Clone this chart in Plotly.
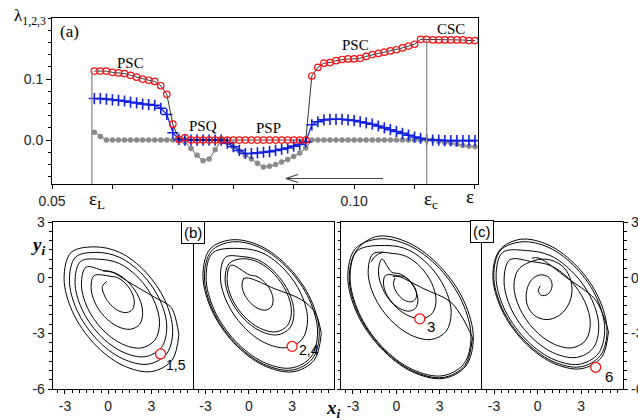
import plotly.graph_objects as go

W, H = 638, 420

# ---------------- top panel data (Lyapunov exponents) ----------------
eps = [0.057, 0.058, 0.059, 0.060, 0.061, 0.062, 0.063, 0.064, 0.065, 0.066,
       0.067, 0.068, 0.069, 0.070, 0.071, 0.072, 0.073, 0.074, 0.075, 0.076,
       0.077, 0.078, 0.079, 0.080, 0.081, 0.082, 0.083, 0.084, 0.085, 0.086,
       0.087, 0.088, 0.089, 0.090, 0.091, 0.092, 0.093, 0.094, 0.095, 0.096,
       0.097, 0.098, 0.099, 0.100, 0.101, 0.102, 0.103, 0.104, 0.105, 0.106,
       0.107, 0.108, 0.109, 0.110, 0.111, 0.112, 0.113, 0.114, 0.115, 0.116,
       0.117, 0.118, 0.119, 0.120]

lam1 = [0.113, 0.113, 0.113, 0.111, 0.110, 0.109, 0.106, 0.103, 0.100, 0.098,
        0.096, 0.089, 0.075, 0.026, 0.001, 0.004, 0.0, 0.0, 0.0, 0.0,
        0.0, 0.0, 0.0, 0.0, 0.0, 0.0, 0.0, 0.0, 0.0, 0.0,
        0.0, 0.0, 0.0, 0.0, 0.0, 0.0, 0.105, 0.119, 0.126, 0.127,
        0.130, 0.132, 0.133, 0.133, 0.134, 0.137, 0.140, 0.142, 0.144, 0.146,
        0.148, 0.151, 0.154, 0.157, 0.165, 0.165, 0.164, 0.164, 0.164, 0.164,
        0.164, 0.164, 0.163, 0.163]

lam2 = [0.068, 0.068, 0.067, 0.066, 0.065, 0.064, 0.062, 0.061, 0.059, 0.058,
        0.057, 0.052, 0.042, 0.012, 0.001, 0.0, 0.0, 0.0, 0.0, 0.0,
        0.0, 0.0, -0.005, -0.011, -0.017, -0.022, -0.022, -0.021, -0.020, -0.019,
        -0.017, -0.015, -0.013, -0.010, -0.007, -0.003, 0.025, 0.030, 0.033, 0.034,
        0.034, 0.034, 0.033, 0.032, 0.030, 0.028, 0.026, 0.023, 0.020, 0.017,
        0.014, 0.011, 0.008, 0.005, 0.003, 0.001, 0.0, 0.0, -0.001, -0.001,
        -0.001, -0.001, -0.001, -0.001]

lam3 = [0.013, 0.006, 0.0, 0.0, 0.0, 0.0, 0.0, 0.0, 0.0, 0.0,
        0.0, 0.0, 0.0, 0.0, 0.0, -0.003, -0.014, -0.025, -0.034, -0.031,
        -0.016, 0.0, -0.004, -0.011, -0.018, -0.025, -0.031, -0.038, -0.044, -0.043,
        -0.040, -0.036, -0.032, -0.027, -0.021, -0.013, 0.0, 0.0, 0.0, 0.0,
        0.0, 0.0, 0.0, 0.0, 0.0, 0.0, 0.0, 0.0, 0.0, 0.0,
        0.0, 0.0, 0.0, 0.0, 0.0, 0.0, 0.0, -0.002, -0.004, -0.005,
        -0.007, -0.009, -0.010, -0.011]

eps_L = 0.0566
eps_c = 0.112
lam_L_top = 0.113
lam_c_top = 0.165

top_xticks = [0.05, 0.10]
top_xtext = ["0.05", "0.10"]
top_yticks = [0.0, 0.1]
top_ytext = ["0.0", "0.1"]

regime_labels = ["PSC", "PSQ", "PSP", "PSC", "CSC"]

# ---------------- bottom panels: phase portraits (x_i, y_i) ----------------
# panel 1 (oscillators 1,5)
p1_spiral_x = [-0.1,
               -0.41, -0.25, 0.17, 0.73, 1.28, 1.68, 1.81, 1.65, 1.23, 0.67, 0.12,
               -0.98, -1.19, -0.93, -0.26, 0.65, 1.54, 2.18, 2.39, 2.13, 1.46, 0.55, -0.34,
               -1.53, -1.86, -1.46, -0.44, 0.92, 2.26, 3.23, 3.56, 3.16, 2.14, 0.78, -0.56,
               -1.92, -2.3, -1.84, -0.64, 0.96, 2.54, 3.68, 4.06, 3.6, 2.4, 0.8, -0.78,
               -2.26, -2.69, -2.17, -0.82, 0.98, 2.76, 4.04, 4.47, 3.95, 2.6, 0.8, -0.98,
               -2.58, -3.06, -2.48, -0.98, 1.02, 3.0, 4.42, 4.9]
p1_spiral_y = [-0.2,
               -0.48, -0.98, -1.46, -1.79, -1.88, -1.71, -1.32, -0.82, -0.34, -0.01, 0.08,
               0.11, -0.52, -1.33, -2.1, -2.63, -2.78, -2.51, -1.88, -1.07, -0.3, 0.23, 0.38,
               0.57, -0.37, -1.59, -2.76, -3.56, -3.79, -3.37, -2.43, -1.21, -0.04, 0.76, 0.99,
               0.87, -0.24, -1.67, -3.05, -3.99, -4.26, -3.77, -2.66, -1.23, 0.15, 1.09, 1.36,
               1.11, -0.14, -1.75, -3.3, -4.36, -4.66, -4.11, -2.86, -1.25, 0.3, 1.36, 1.66,
               1.35, -0.04, -1.83, -3.55, -4.73, -5.06, -4.45, -3.06]
p1_fold_x = [4.9, 4.6, 4.3, 3.2, 1.6, 0.14, -0.35]
p1_fold_y = [-3.06, -2.0, -1.55, -1.05, -0.32, 0.34, 0.35]
p1_mark = (3.63, -4.11)

# panel 2 (oscillators 2,4)
p2_spiral_x = [-0.35, -0.48, -0.32, 0.09, 0.63, 1.16, 1.55, 1.68, 1.52, 1.11, 0.57, 0.04,
               -1.24, -1.51, -1.18, -0.34, 0.78, 1.88, 2.68, 2.95, 2.62, 1.78, 0.66, -0.44,
               -1.36, -1.65, -1.30, -0.40, 0.80, 1.99, 2.84, 3.13, 2.78, 1.88, 0.68, -0.51,
               -1.61, -1.97, -1.53, -0.39, 1.13, 2.63, 3.71, 4.07, 3.63, 2.49, 0.97, -0.53,
               -2.50, -2.96, -2.40, -0.94, 1.00, 2.92, 4.30, 4.76, 4.20, 2.74, 0.80, -1.12,
               -2.60, -3.08, -2.50, -1.00, 1.00, 2.98, 4.40, 4.88, 4.30, 2.80, 0.80, -1.18,
               -2.69, -3.18, -2.58, -1.04, 1.02, 3.06, 4.53, 5.02]
p2_spiral_y = [-0.02, -0.39, -0.88, -1.34, -1.66, -1.75, -1.58, -1.21, -0.72, -0.26, 0.06, 0.15,
               0.67, -0.10, -1.11, -2.07, -2.73, -2.92, -2.57, -1.80, -0.79, 0.17, 0.83, 1.02,
               0.77, -0.06, -1.14, -2.17, -2.88, -3.08, -2.71, -1.88, -0.80, 0.23, 0.94, 1.14,
               1.10, 0.05, -1.31, -2.62, -3.52, -3.77, -3.30, -2.25, -0.89, 0.42, 1.32, 1.57,
               1.34, -0.01, -1.74, -3.41, -4.55, -4.87, -4.28, -2.93, -1.20, 0.47, 1.61, 1.93,
               1.43, 0.04, -1.75, -3.47, -4.65, -4.98, -4.37, -2.98, -1.19, 0.53, 1.71, 2.04,
               1.54, 0.11, -1.74, -3.51, -4.73, -5.07, -4.44, -3.01]
p2_fold_x = [5.02, 4.6, 3.67, 1.8, -0.02, -0.4]
p2_fold_y = [-3.01, -1.9, -1.2, -0.6, -0.02, -0.05]
p2_mark = (3.0, -3.7)

# panel 3 (oscillator 3)
p3_spiral_x = [-0.10, -0.20, -0.08, 0.22, 0.62, 1.02, 1.30, 1.40, 1.28, 0.98, 0.58, 0.18,
               -0.75, -0.89, -0.72, -0.27, 0.33, 0.92, 1.35, 1.49, 1.32, 0.87, 0.27, -0.32,
               -1.0, -1.24, -0.95, -0.2, 0.8, 1.79, 2.5, 2.74, 2.45, 1.7, 0.7, -0.29,
               -1.60, -1.95, -1.53, -0.45, 0.99, 2.42, 3.44, 3.79, 3.37, 2.29, 0.85, -0.58,
               -2.70, -3.20, -2.59, -1.02, 1.09, 3.16, 4.66, 5.16, 4.55, 2.98, 0.87, -1.20,
               -2.84, -3.36, -2.73, -1.09, 1.09, 3.25, 4.80, 5.32, 4.69, 3.05, 0.87, -1.29,
               -2.75, -3.26, -2.64, -1.03, 1.11, 3.23, 4.75, 5.26]
p3_spiral_y = [-0.02, -0.30, -0.66, -1.0, -1.24, -1.30, -1.18, -0.90, -0.54, -0.20, 0.04, 0.10,
               0.12, -0.30, -0.83, -1.35, -1.70, -1.80, -1.62, -1.20, -0.67, -0.15, 0.20, 0.30,
               1.0, 0.31, -0.59, -1.45, -2.04, -2.21, -1.9, -1.21, -0.31, 0.55, 1.14, 1.31,
               1.29, 0.29, -1.0, -2.24, -3.09, -3.33, -2.89, -1.89, -0.60, 0.64, 1.49, 1.73,
               1.45, -0.01, -1.89, -3.70, -4.94, -5.29, -4.65, -3.19, -1.31, 0.50, 1.74, 2.09,
               1.56, 0.05, -1.91, -3.78, -5.07, -5.43, -4.76, -3.25, -1.29, 0.58, 1.87, 2.23,
               1.48, 0.0, -1.92, -3.76, -5.02, -5.38, -4.72, -3.24]
p3_fold_x = [5.26, 4.6, 3.7, 1.9, 0.12, -0.25]
p3_fold_y = [-3.24, -2.2, -1.28, -0.6, 0.07, 0.05]
p3_hook_x = [-0.92, -1.4, -1.75]
p3_hook_y = [1.37, 1.2, 0.85]
p3_mark = (1.62, -2.22)

# panel 4 (oscillator 6)
p4_spiral_x = [0.18, 0.05, 0.25, 0.7, 1.0, 0.8, 0.2, -0.4, -0.75, -0.7, -0.1, 0.8, 1.7, 2.3, 2.3, 1.8, 0.9, -0.1,
               -1.31, -1.63, -1.24, -0.25, 1.07, 2.37, 3.31, 3.63, 3.24, 2.25, 0.93, -0.37,
               -1.92, -2.31, -1.84, -0.61, 1.03, 2.66, 3.82, 4.21, 3.74, 2.51, 0.87, -0.76,
               -2.41, -2.86, -2.32, -0.91, 0.97, 2.84, 4.17, 4.62, 4.08, 2.67, 0.79, -1.08,
               -2.55, -3.02, -2.45, -0.98, 0.98, 2.92, 4.31, 4.78, 4.21, 2.74, 0.78, -1.16,
               -2.6, -3.08, -2.5, -1.0, 1.0, 2.98, 4.4, 4.88]
p4_spiral_y = [-0.45, -0.7, -0.95, -0.9, -0.45, 0.0, 0.15, -0.1, -0.7, -1.5, -2.1, -2.25, -1.9, -1.1, -0.2, 0.55, 0.95, 0.95,
               0.45, -0.46, -1.64, -2.78, -3.56, -3.78, -3.37, -2.46, -1.28, -0.14, 0.64, 0.86,
               0.96, -0.18, -1.65, -3.06, -4.03, -4.30, -3.80, -2.66, -1.19, 0.22, 1.19, 1.46,
               1.36, 0.05, -1.63, -3.25, -4.36, -4.67, -4.10, -2.79, -1.11, 0.51, 1.62, 1.93,
               1.47, 0.11, -1.64, -3.33, -4.49, -4.81, -4.21, -2.85, -1.10, 0.59, 1.75, 2.07,
               1.5, 0.11, -1.68, -3.4, -4.58, -4.91, -4.3, -2.91]
p4_fold_x = [4.88, 4.4, 3.88, 2.0, 0.07, -0.4]
p4_fold_y = [-2.91, -1.8, -1.1, 0.0, 1.06, 1.05]
p4_mark = (4.0, -4.83)

mark_labels = ["1,5", "2,4", "3", "6"]
phase_ticks = [-3, 0, 3]
phase_yticks = [3, 0, -3, -6]

# ---------------- figure ----------------
def px(xp):
    return xp / W


def py(yp):
    return 1 - yp / H


fig = go.Figure()

SERIF = "Liberation Serif"
SANS = "Liberation Sans"

# top panel traces
fig.add_trace(go.Scatter(x=eps, y=lam3, mode="lines+markers",
                         line=dict(color="#333333", width=0.8),
                         marker=dict(symbol="circle", size=5.5, color="#8a8a8a"),
                         xaxis="x", yaxis="y", showlegend=False))
fig.add_trace(go.Scatter(x=eps, y=lam2, mode="lines+markers",
                         line=dict(color="#1020e0", width=1.2),
                         marker=dict(symbol="cross-thin", size=8,
                                     line=dict(color="#1020e0", width=1.6)),
                         xaxis="x", yaxis="y", showlegend=False))
fig.add_trace(go.Scatter(x=eps, y=lam1, mode="lines+markers",
                         line=dict(color="black", width=0.8),
                         marker=dict(symbol="circle-open", size=6.5, color="#ff1010",
                                     line=dict(width=1.2)),
                         xaxis="x", yaxis="y", showlegend=False))
# vertical markers at eps_L and eps_c
fig.add_trace(go.Scatter(x=[eps_L, eps_L], y=[-0.08, lam_L_top], mode="lines",
                         line=dict(color="#8c8c8c", width=1.3),
                         xaxis="x", yaxis="y", showlegend=False))
fig.add_trace(go.Scatter(x=[eps_c, eps_c], y=[-0.08, lam_c_top], mode="lines",
                         line=dict(color="#8c8c8c", width=1.3),
                         xaxis="x", yaxis="y", showlegend=False))

# arrow (decreasing epsilon)
arrow_y = -0.063
fig.add_shape(type="line", x0=0.1048, x1=0.0887, y0=arrow_y, y1=arrow_y,
              xref="x", yref="y", line=dict(color="#444444", width=1.2))
fig.add_shape(type="line", x0=0.0887, x1=0.0907, y0=arrow_y, y1=arrow_y + 0.0065,
              xref="x", yref="y", line=dict(color="#444444", width=1.2))
fig.add_shape(type="line", x0=0.0887, x1=0.0907, y0=arrow_y, y1=arrow_y - 0.0065,
              xref="x", yref="y", line=dict(color="#444444", width=1.2))

# phase portraits
panels = [
    ([(p1_spiral_x, p1_spiral_y), (p1_fold_x, p1_fold_y)], p1_mark),
    ([(p2_spiral_x, p2_spiral_y), (p2_fold_x, p2_fold_y)], p2_mark),
    ([(p3_spiral_x, p3_spiral_y), (p3_fold_x, p3_fold_y), (p3_hook_x, p3_hook_y)], p3_mark),
    ([(p4_spiral_x, p4_spiral_y), (p4_fold_x, p4_fold_y)], p4_mark),
]
for k, (segs, mk) in enumerate(panels):
    ax = "x%d" % (k + 2)
    ay = "y%d" % (k + 2)
    for sx, sy in segs:
        fig.add_trace(go.Scatter(x=sx, y=sy, mode="lines",
                                 line=dict(color="black", width=1, shape="spline", smoothing=1.0),
                                 xaxis=ax, yaxis=ay, showlegend=False, hoverinfo="skip"))
    fig.add_trace(go.Scatter(x=[mk[0]], y=[mk[1]], mode="markers",
                             marker=dict(symbol="circle", size=10, color="white",
                                         line=dict(color="#ff1010", width=1.3)),
                             xaxis=ax, yaxis=ay, showlegend=False))

axis_common = dict(showline=True, linecolor="black", linewidth=1,
                   showgrid=False, zeroline=False, automargin=False)

layout = dict(
    width=W, height=H, margin=dict(l=0, r=0, t=0, b=0, autoexpand=False),
    paper_bgcolor="white", plot_bgcolor="white",
    xaxis=dict(domain=[px(52), px(478)], range=[0.05, 0.1205], anchor="y",
               tickmode="array", tickvals=top_xticks, ticktext=top_xtext,
               ticks="outside", ticklen=4, tickcolor="black", mirror=True,
               minor=dict(tickmode="linear", tick0=0.05, dtick=0.01, ticks="outside",
                          ticklen=4, tickcolor="black"),
               tickfont=dict(family=SANS, size=14, color="#222"), **axis_common),
    yaxis=dict(domain=[py(184), py(18)], range=[-0.072, 0.2], anchor="x",
               tickmode="array", tickvals=top_yticks, ticktext=top_ytext,
               ticks="outside", ticklen=5, tickcolor="black", mirror=True,
               minor=dict(tickmode="linear", tick0=0, dtick=0.02, ticks="outside",
                          ticklen=3, tickcolor="black"),
               tickfont=dict(family=SANS, size=14, color="#222"), **axis_common),
)

bx = [(52.7, 193.3), (193.3, 334.0), (340.7, 481.7), (481.7, 623.3)]
for k, (a, b) in enumerate(bx):
    xn = "xaxis%d" % (k + 2)
    yn = "yaxis%d" % (k + 2)
    layout[xn] = dict(domain=[px(a), px(b)], range=[-3.85, 5.9], anchor="y%d" % (k + 2),
                      tickmode="array", tickvals=phase_ticks,
                      ticktext=[str(t) for t in phase_ticks],
                      ticks="outside", ticklen=4, tickcolor="black", mirror=True,
                      minor=dict(tickmode="linear", tick0=0, dtick=0.5, ticks="outside",
                                 ticklen=2.5, tickcolor="black"),
                      tickfont=dict(family=SANS, size=14, color="#222"), **axis_common)
    ydict = dict(domain=[py(389), py(222)], range=[-6, 3], anchor="x%d" % (k + 2),
                 tickmode="array", tickvals=phase_yticks,
                 ticktext=[str(t) for t in phase_yticks],
                 tickfont=dict(family=SANS, size=14, color="#222"), **axis_common)
    if k == 0:
        ydict.update(ticks="outside", ticklen=4, tickcolor="black", mirror=True,
                     minor=dict(tickmode="linear", tick0=0, dtick=0.5, ticks="outside",
                                ticklen=2.5, tickcolor="black"))
    elif k == 1:
        ydict.update(side="right", showticklabels=False, ticks="", mirror=False)
    elif k == 2:
        ydict.update(side="left", showticklabels=False, ticks="outside", ticklen=3,
                     tickcolor="black", mirror=False,
                     minor=dict(tickmode="linear", tick0=0, dtick=0.5, ticks="outside",
                                ticklen=2, tickcolor="black"))
    else:
        ydict.update(side="right", ticks="outside", ticklen=4, tickcolor="black", mirror=True,
                     minor=dict(tickmode="linear", tick0=0, dtick=0.5, ticks="outside",
                                ticklen=2.5, tickcolor="black"))
    layout[yn] = ydict

fig.update_layout(**layout)

ann = []


def A(text, xp, yp, size=14, family=SANS, xanchor="center", yanchor="middle", **kw):
    ann.append(dict(text=text, x=px(xp), y=py(yp), xref="paper", yref="paper",
                    showarrow=False, xanchor=xanchor, yanchor=yanchor,
                    font=dict(family=family, size=size, color="black"), **kw))


A("λ<sub>1,2,3</sub>", 12, 17, size=17, family=SERIF, xanchor="left")
A("(a)", 69, 32, size=17, family=SERIF)
A(regime_labels[0], 130, 63, size=15, family=SERIF)
A(regime_labels[1], 203, 126, size=15, family=SERIF)
A(regime_labels[2], 268, 128, size=15, family=SERIF)
A(regime_labels[3], 355, 45, size=15, family=SERIF)
A(regime_labels[4], 451, 29, size=15, family=SERIF)
A("ε<sub>L</sub>", 97, 200, size=19, family=SERIF)
A("ε<sub>c</sub>", 431, 200, size=19, family=SERIF)
A("ε", 470, 196, size=19, family=SERIF)

A("<b><i>y</i></b><sub><b><i>i</i></b></sub>", 38, 246, size=19, family=SERIF)
A("<b><i>x</i></b><sub><b><i>i</i></b></sub>", 333, 409, size=19, family=SERIF)
A("(b)", 193, 232, size=15, bordercolor="black", borderwidth=1, borderpad=2, bgcolor="white")
A("(c)", 482, 231, size=15, bordercolor="black", borderwidth=1, borderpad=2, bgcolor="white")
A(mark_labels[0], 176, 365, size=14)
A(mark_labels[1], 309, 350, size=14)
A(mark_labels[2], 431, 326, size=15)
A(mark_labels[3], 609, 376, size=15)

fig.update_layout(annotations=ann)
fig.write_html("out.html", config={"displayModeBar": False},
               post_script="document.body.style.margin='0px';document.body.style.overflow='hidden';")
